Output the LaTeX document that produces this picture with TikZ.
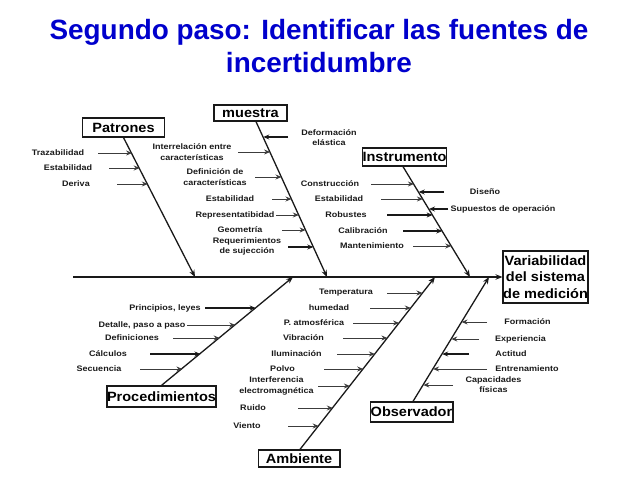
\documentclass[tikz,border=0pt]{standalone}
\usepackage{fontspec}
\setmainfont{Liberation Sans}
\newfontfamily\labfam[FakeStretch=1.13]{Liberation Sans}
\newfontfamily\boxfam[FakeStretch=1.08]{Liberation Sans}
\usetikzlibrary{arrows.meta,calc}
\definecolor{titleblue}{RGB}{0,0,204}
\definecolor{ink}{RGB}{25,25,25}
\begin{document}
\begin{tikzpicture}[x=1bp,y=-1bp,
  lbl/.style={font=\labfam\bfseries\fontsize{8}{10.5}\selectfont, align=center, inner sep=0pt, text=ink},
  box/.style={draw=ink, line width=1.3pt, font=\boxfam\bfseries\fontsize{13.5}{16.5}\selectfont, inner sep=0pt, align=center},
  bone/.style={line width=1.3pt, draw=ink, -{Stealth[length=7pt,width=5.5pt]}},
  rib/.style={line width=0.9pt, draw=ink!85, -{Stealth[length=6pt,width=5pt]}},
  ribb/.style={line width=1.5pt, draw=ink, -{Stealth[length=6pt,width=5pt]}}
]
\useasboundingbox (0,0) rectangle (638,479);

% title
\node[font=\bfseries\fontsize{28}{33}\selectfont, text=titleblue, align=center] (title) at (319,46)
  {Segundo paso: Identificar las fuentes de\\incertidumbre};

% boxes
\node[box, minimum width=83, minimum height=19] (pat) at (123.5,127.5) {Patrones};
\node[box, minimum width=73, minimum height=16] (mue) at (250.5,113) {muestra};
\node[box, minimum width=85, minimum height=18] (ins) at (404.5,157) {Instrumento};
\node[box, minimum width=85, minimum height=52] (var) at (545.5,277) {Variabilidad\\del sistema\\de medición};
\node[box, minimum width=109, minimum height=21] (pro) at (161.5,396.5) {Procedimientos};
\node[box, minimum width=82, minimum height=17] (amb) at (299,458.5) {Ambiente};
\node[box, minimum width=83, minimum height=20] (obs) at (411.5,412) {Observador};

% spine
\coordinate (s0) at (73,277);
\draw[bone] (s0) -- (var.west);

% bones
\coordinate (ePat) at (195,277);
\coordinate (eMue) at (327,277);
\coordinate (eIns) at (470,277);
\coordinate (ePro) at (293,277);
\coordinate (eAmb) at (435,277);
\coordinate (eObs) at (489,277);
\draw[bone] (pat.south) -- (ePat);
\draw[bone] ([xshift=5.5bp]mue.south) -- (eMue);
\draw[bone] ([xshift=-1.5bp]ins.south) -- (eIns);
\draw[bone] (pro.north) -- (ePro);
\draw[bone] ([xshift=1bp]amb.north) -- (eAmb);
\draw[bone] ([xshift=1.5bp]obs.north) -- (eObs);

% labels: Patrones
\node[lbl] (l1) at (58,153) {Trazabilidad};
\node[lbl] (l2) at (68,168) {Estabilidad};
\node[lbl] (l3) at (76,184) {Deriva};
% labels: muestra
\node[lbl] (l4) at (329,137.5) {Deformación\\elástica};
\node[lbl] (l5) at (192,152) {Interrelación entre\\características};
\node[lbl] (l6) at (215,177) {Definición de\\características};
\node[lbl] (l7) at (230,199) {Estabilidad};
\node[lbl] (l8) at (235,215) {Representatibidad};
\node[lbl] (l9) at (240,230) {Geometría};
\node[lbl] (l10) at (247,246.5) {Requerimientos\\de sujección};
% labels: Instrumento
\node[lbl] (l11) at (330,184) {Construcción};
\node[lbl] (l12) at (339,199) {Estabilidad};
\node[lbl] (l13) at (346,215) {Robustes};
\node[lbl] (l14) at (363,231) {Calibración};
\node[lbl] (l15) at (372,246) {Mantenimiento};
\node[lbl] (l16) at (485,192) {Diseño};
\node[lbl] (l17) at (503,209) {Supuestos de operación};
% labels: Procedimientos
\node[lbl] (l18) at (165,308) {Principios, leyes};
\node[lbl] (l19) at (142,325) {Detalle, paso a paso};
\node[lbl] (l20) at (132,338) {Definiciones};
\node[lbl] (l21) at (108,354) {Cálculos};
\node[lbl] (l22) at (99,369) {Secuencia};
% labels: Ambiente
\node[lbl] (l23) at (346,293) {Temperatura};
\node[lbl] (l24) at (329,308) {humedad};
\node[lbl] (l25) at (314,323) {P. atmosférica};
\node[lbl] (l26) at (303.5,338) {Vibración};
\node[lbl] (l27) at (296.5,354) {Iluminación};
\node[lbl] (l28) at (282.5,369) {Polvo};
\node[lbl] (l29) at (276.5,386) {Interferencia\\electromagnética};
\node[lbl] (l30) at (253,408) {Ruido};
\node[lbl] (l31) at (247,426) {Viento};
% labels: Observador
\node[lbl] (l32) at (527.5,322) {Formación};
\node[lbl] (l33) at (520.5,339) {Experiencia};
\node[lbl] (l34) at (511,354) {Actitud};
\node[lbl] (l35) at (527,369) {Entrenamiento};
\node[lbl] (l36) at (493.5,384.5) {Capacidades\\físicas};

% ribs: name/tail x/head x/y/style
\foreach \n/\tx/\hx/\y/\s in {
  a1/98/132.1/153/rib, a2/109/139.7/168/rib, a3/117/147.8/184/rib,
  b1/288/263.3/137/ribb, b2/238/270.1/152/rib, b3/255/281.5/177/rib,
  b4/272/291.5/199/rib, b5/276/298.8/215/rib, b6/282/305.6/230/rib, b7/288/313.3/247/ribb,
  c1/371/413.9/184/rib, c2/381/422.9/199/rib, c3/387/432.6/215/ribb,
  c4/403/442.3/231/ribb, c5/413/451.3/246/rib, c6/444/418.7/192/ribb, c7/448/429.0/209/ribb,
  d1/205/255.7/308/ribb, d2/187/235.3/325/rib, d3/173/219.7/338/rib,
  d4/150/200.5/354/ribb, d5/140/182.4/369/rib,
  e1/387/422.5/293/rib, e2/370/410.8/308/rib, e3/353/399.1/323/rib,
  e4/343/387.4/338/rib, e5/337/374.9/354/rib, e6/324/363.2/369/rib,
  e7/318/349.9/386/rib, e8/298/332.8/408/rib, e9/288/318.7/426/rib,
  f1/487/461.6/322/rib, f2/479/451.3/339/rib, f3/469/442.2/354/ribb,
  f4/487/433.1/369/rib, f5/453/423.3/385/rib}
{
  \coordinate (t\n) at (\tx,\y);
  \coordinate (h\n) at (\hx,\y);
  \draw[\s] (t\n) -- (h\n);
}
\end{tikzpicture}
\end{document}
